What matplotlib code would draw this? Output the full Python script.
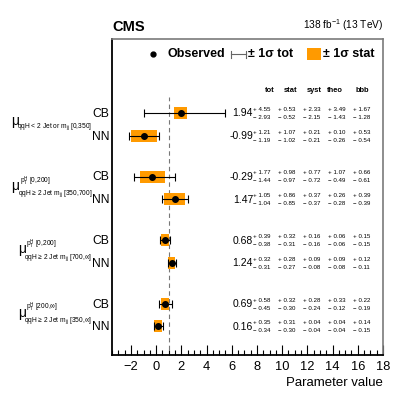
import matplotlib
matplotlib.use("Agg")
import matplotlib.pyplot as plt
from matplotlib.lines import Line2D
from matplotlib.patches import Rectangle
from matplotlib.transforms import blended_transform_factory
from matplotlib.ticker import MultipleLocator

plt.rcParams['font.family'] = ['Liberation Sans', 'DejaVu Sans']
plt.rcParams['mathtext.fontset'] = 'custom'
plt.rcParams['mathtext.rm'] = 'Liberation Sans'
plt.rcParams['mathtext.it'] = 'Liberation Sans'
plt.rcParams['mathtext.bf'] = 'Liberation Sans:bold'
plt.rcParams['mathtext.default'] = 'regular'

# ---------------- data ----------------
methods = ["CB", "NN", "CB", "NN", "CB", "NN", "CB", "NN"]
group_labels_sub = [
    "qqH < 2 Jet or m$_{jj}$ [0,350]",
    "qqH ≥ 2 Jet m$_{jj}$ [350,700]",
    "qqH ≥ 2 Jet m$_{jj}$ [700,∞]",
    "qqH ≥ 2 Jet m$_{jj}$ [350,∞]",
]
group_labels_sup = [
    None,
    "p$_T^H$ [0,200]",
    "p$_T^H$ [0,200]",
    "p$_T^H$ [200,∞]",
]
values = [1.94, -0.99, -0.29, 1.47, 0.68, 1.24, 0.69, 0.16]
tot_hi = [4.55, 1.21, 1.77, 1.05, 0.39, 0.32, 0.58, 0.35]
tot_lo = [2.93, 1.19, 1.44, 1.04, 0.38, 0.31, 0.45, 0.34]
# upper total error as drawn in the figure (first bar is drawn shorter than its label)
tot_hi_drawn = [3.55, 1.21, 1.77, 1.05, 0.39, 0.32, 0.58, 0.35]
stat_hi = [0.53, 1.07, 0.98, 0.86, 0.32, 0.28, 0.32, 0.31]
stat_lo = [0.52, 1.02, 0.97, 0.85, 0.31, 0.27, 0.30, 0.30]
syst_hi = [2.33, 0.21, 0.77, 0.37, 0.16, 0.09, 0.28, 0.04]
syst_lo = [2.15, 0.21, 0.72, 0.37, 0.16, 0.08, 0.24, 0.04]
theo_hi = [3.49, 0.10, 1.07, 0.26, 0.06, 0.09, 0.33, 0.04]
theo_lo = [1.43, 0.26, 0.49, 0.28, 0.06, 0.08, 0.12, 0.04]
bbb_hi = [1.67, 0.53, 0.66, 0.39, 0.15, 0.12, 0.22, 0.14]
bbb_lo = [1.28, 0.54, 0.61, 0.39, 0.15, 0.11, 0.19, 0.15]
columns = ["tot", "stat", "syst", "theo", "bbb"]
xticks = [-2, 0, 2, 4, 6, 8, 10, 12, 14, 16, 18]

# ---------------- layout ----------------
W, H = 399, 395
fig = plt.figure(figsize=(W / 100, H / 100), dpi=100)
ax = fig.add_axes([112 / W, 1 - 355 / H, (383 - 112) / W, (355 - 39) / H])

GROUP_STEP = 63.5
ROW_STEP = 22.7
ypos = [-(i // 2) * GROUP_STEP - (i % 2) * ROW_STEP for i in range(len(values))]

orange = '#ff9a00'
box_h = 12
for i, v in enumerate(values):
    ax.add_patch(Rectangle((v - stat_lo[i], ypos[i] - box_h / 2), stat_lo[i] + stat_hi[i], box_h,
                           facecolor=orange, edgecolor='none', zorder=2))
ax.errorbar(values, ypos, xerr=[tot_lo, tot_hi_drawn], fmt='o', color='black', ms=4,
            elinewidth=0.8, capsize=3, capthick=0.8, zorder=3)

ax.vlines(1, -260, 16, colors='#777777', linestyles=(0, (4, 3)), linewidth=0.8, zorder=1)

ax.set_xlim(-3.5, 18)
ax.set_ylim(-242, 74)
ax.set_xticks(xticks)
ax.set_xticklabels([str(t).replace('-', '\u2212') for t in xticks])
ax.xaxis.set_minor_locator(MultipleLocator(0.5))
ax.tick_params(axis='x', which='major', direction='in', length=7, width=0.8, labelsize=9.3, pad=4)
ax.tick_params(axis='x', which='minor', direction='in', length=3.5, width=0.8)
ax.set_yticks([])
ax.set_xlabel("Parameter value", fontsize=9.5, loc='right', labelpad=3)
for s in ['left', 'bottom']:
    ax.spines[s].set_linewidth(1.3)
    ax.spines[s].set_color('black')
for s in ['top', 'right']:
    ax.spines[s].set_linewidth(1.2)
    ax.spines[s].set_color('#7a7a7a')

# ---------------- header ----------------
fig.text(112 / W, 1 - 27 / H, "CMS", fontsize=10.5, fontweight='bold', ha='left', va='center')
fig.text(383 / W, 1 - 25 / H, "138 fb$^{-1}$ (13 TeV)", fontsize=7.3, ha='right', va='center')

# legend
ly = 1 - 54 / H
fig.add_artist(Line2D([153 / W], [ly], marker='o', color='black', ms=3.5, transform=fig.transFigure))
fig.text(167 / W, ly, "Observed", fontsize=9, fontweight='bold', ha='left', va='center')
fig.add_artist(Line2D([231 / W, 246 / W], [ly, ly], color='#666666', lw=0.8, transform=fig.transFigure))
for xx in (231, 246):
    fig.add_artist(Line2D([xx / W, xx / W], [ly - 3.5 / H, ly + 3.5 / H], color='#666666', lw=0.8,
                          transform=fig.transFigure))
fig.text(248 / W, ly, "± 1σ tot", fontsize=9, fontweight='bold', ha='left', va='center')
fig.add_artist(Rectangle((307 / W, 1 - 60 / H), 14 / W, 12 / H, facecolor=orange, edgecolor='none',
                         transform=fig.transFigure))
fig.text(323 / W, ly, "± 1σ stat", fontsize=9, fontweight='bold', ha='left', va='center')

# ---------------- right text columns ----------------
bt = blended_transform_factory(fig.transFigure, ax.transData)
col_left = [253, 278, 303, 328, 353]
col_head = [270, 291, 314, 334.5, 362.5]
for c, xh in zip(columns, col_head):
    ax.text(xh / W, ypos[0] + 22, c, transform=bt, fontsize=5.4, fontweight='bold',
            ha='center', va='center')

his = [tot_hi, stat_hi, syst_hi, theo_hi, bbb_hi]
los = [tot_lo, stat_lo, syst_lo, theo_lo, bbb_lo]
for i, v in enumerate(values):
    ax.text(253 / W, ypos[i] - 0.5, f"{v:.2f}", transform=bt, fontsize=7.5, ha='right', va='center')
    for k in range(5):
        ax.text(col_left[k] / W, ypos[i] + 3.5, f"+ {his[k][i]:.2f}", transform=bt, fontsize=4.4,
                ha='left', va='center')
        ax.text(col_left[k] / W, ypos[i] - 4.5, f"\u2212 {los[k][i]:.2f}", transform=bt, fontsize=4.4,
                ha='left', va='center')

# ---------------- left labels ----------------
for i, m in enumerate(methods):
    ax.text(109.5 / W, ypos[i] - 1, m, transform=bt, fontsize=8.7, ha='right', va='center')

fig.canvas.draw()
renderer = fig.canvas.get_renderer()
for g in range(4):
    ymid = (ypos[2 * g] + ypos[2 * g + 1]) / 2
    if group_labels_sup[g] is None:
        y_mu, y_sub = ymid + 3.5, ymid - 2.5
    else:
        y_mu, y_sub = ymid + 2, ymid - 6
    sub = ax.text(92.5 / W, y_sub, group_labels_sub[g], transform=bt, fontsize=4.8,
                  ha='right', va='center')
    bb = sub.get_window_extent(renderer)
    x_left = bb.x0
    ax.text((x_left + 1.5) / W, y_mu, "μ", transform=bt, fontsize=10, ha='right', va='center')
    if group_labels_sup[g] is not None:
        ax.text((x_left + 2) / W, ymid + 7, group_labels_sup[g], transform=bt, fontsize=4.8,
                ha='left', va='center')

fig.savefig("out.png", dpi=100)
